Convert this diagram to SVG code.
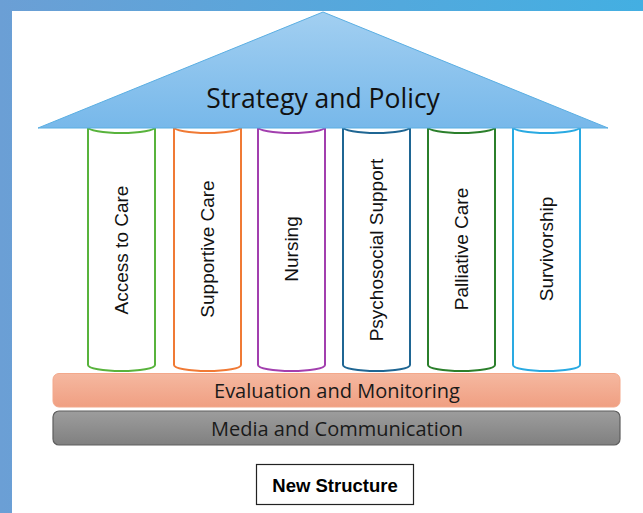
<svg xmlns="http://www.w3.org/2000/svg" width="643" height="513" viewBox="0 0 643 513">
<defs>
<linearGradient id="frame" x1="0" y1="0" x2="1" y2="0">
<stop offset="0" stop-color="#6b9fd5"/>
<stop offset="1" stop-color="#43afe2"/>
</linearGradient>
<linearGradient id="roofg" x1="0" y1="0" x2="0" y2="1">
<stop offset="0" stop-color="#a2cff1"/>
<stop offset="1" stop-color="#77b8ea"/>
</linearGradient>
<linearGradient id="orangeg" x1="0" y1="0" x2="0" y2="1">
<stop offset="0" stop-color="#f5b8a0"/>
<stop offset="1" stop-color="#f09f82"/>
</linearGradient>
<linearGradient id="grayg" x1="0" y1="0" x2="0" y2="1">
<stop offset="0" stop-color="#9d9d9d"/>
<stop offset="1" stop-color="#808080"/>
</linearGradient>
</defs>
<style>
.pillar{fill:#ffffff;stroke-width:2}
.plabel{font-family:"Liberation Sans",Arial,sans-serif;font-size:19px;fill:#111111;text-anchor:middle;dominant-baseline:central}
.blabel{font-family:"Open Sans","Liberation Sans",sans-serif;font-size:20px;fill:#1a1a1a;text-anchor:middle;dominant-baseline:central}
</style>
<rect x="0" y="0" width="643" height="513" fill="url(#frame)"/>
<rect x="12" y="11" width="631" height="502" fill="#ffffff"/>

<g id="pillar-access">
<path class="pillar" stroke="#58b33c" d="M88,120 V365 A33.5,6 0 0 0 155,365 V120 Z"/>
<path fill="none" stroke="#58b33c" stroke-width="2" d="M88,127 A33.5,6 0 0 0 155,127"/>
<text class="plabel" transform="translate(121.5,250) rotate(-90)">Access to Care</text>
</g>
<g id="pillar-supportive">
<path class="pillar" stroke="#f07a35" d="M174,120 V365 A33.5,6 0 0 0 241,365 V120 Z"/>
<path fill="none" stroke="#f07a35" stroke-width="2" d="M174,127 A33.5,6 0 0 0 241,127"/>
<text class="plabel" transform="translate(207,249) rotate(-90)">Supportive Care</text>
</g>
<g id="pillar-nursing">
<path class="pillar" stroke="#a23fae" d="M258,120 V365 A33.5,6 0 0 0 325,365 V120 Z"/>
<path fill="none" stroke="#a23fae" stroke-width="2" d="M258,127 A33.5,6 0 0 0 325,127"/>
<text class="plabel" transform="translate(291.5,249) rotate(-90)">Nursing</text>
</g>
<g id="pillar-psychosocial">
<path class="pillar" stroke="#1f6693" d="M343,120 V365 A33.5,6 0 0 0 410,365 V120 Z"/>
<path fill="none" stroke="#1f6693" stroke-width="2" d="M343,127 A33.5,6 0 0 0 410,127"/>
<text class="plabel" transform="translate(376,250) rotate(-90)">Psychosocial Support</text>
</g>
<g id="pillar-palliative">
<path class="pillar" stroke="#2b7f2b" d="M428,120 V365 A33.5,6 0 0 0 495,365 V120 Z"/>
<path fill="none" stroke="#2b7f2b" stroke-width="2" d="M428,127 A33.5,6 0 0 0 495,127"/>
<text class="plabel" transform="translate(461,249) rotate(-90)">Palliative Care</text>
</g>
<g id="pillar-survivorship">
<path class="pillar" stroke="#2aaae2" d="M513,120 V365 A33.5,6 0 0 0 580,365 V120 Z"/>
<path fill="none" stroke="#2aaae2" stroke-width="2" d="M513,127 A33.5,6 0 0 0 580,127"/>
<text class="plabel" transform="translate(546,249) rotate(-90)">Survivorship</text>
</g>

<g id="roof">
<polygon points="323,12 608,128 38,128" fill="url(#roofg)" stroke="#5aaee2" stroke-width="1"/>
<text x="323" y="98" font-family="Open Sans, Liberation Sans, sans-serif" font-size="26.5" fill="#111111" text-anchor="middle" dominant-baseline="central">Strategy and Policy</text>
</g>

<g id="evaluation">
<rect x="53" y="373.5" width="567" height="33.5" rx="6" fill="url(#orangeg)" stroke="#f3a88b" stroke-width="1"/>
<text class="blabel" x="337" y="390">Evaluation and Monitoring</text>
</g>
<g id="media">
<rect x="53" y="411" width="567" height="34" rx="6" fill="url(#grayg)" stroke="#5e5e5e" stroke-width="1.2"/>
<text class="blabel" x="337" y="428">Media and Communication</text>
</g>
<g id="caption">
<rect x="256.5" y="464.5" width="157" height="40" fill="#ffffff" stroke="#222222" stroke-width="1.2"/>
<text x="335" y="485" font-family="Liberation Sans, Arial, sans-serif" font-weight="bold" font-size="18.5" fill="#000000" text-anchor="middle" dominant-baseline="central">New Structure</text>
</g>
<g id="connectors"/>
</svg>
